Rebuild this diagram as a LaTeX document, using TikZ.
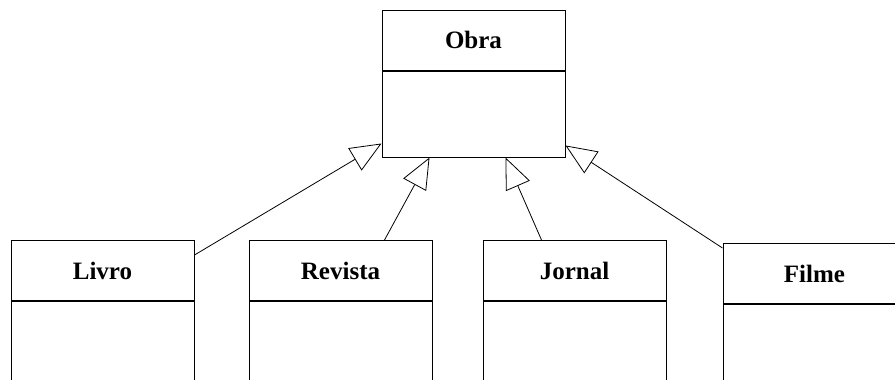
\documentclass[tikz,border=0pt]{standalone}
\usepackage{fontspec}
\setmainfont{Liberation Serif}
\usetikzlibrary{positioning,arrows.meta}

\tikzset{
  classhead/.style={draw, line width=1pt, minimum width=183pt, minimum height=60pt,
    inner sep=0pt, font=\bfseries\fontsize{25}{30}\selectfont},
  classbody/.style={draw, line width=1pt, minimum width=183pt, minimum height=#1,
    inner sep=0pt},
  inherit/.style={line width=0.8pt, -{Triangle[open, length=31pt, width=26pt]}}
}

\begin{document}
\begin{tikzpicture}[x=1pt, y=-1pt]
    % Define picture size
    \def\picw{895}
    \def\pich{380}

    \useasboundingbox (0,0) rectangle (\picw,\pich);
    \clip (0,0) rectangle (\picw,\pich);

    % Draw the base class
    \node[classhead] (obra) at (473.5,40) {Obra};
    \node[classbody=86pt, below=0pt of obra] (obra-body) {};

    % Draw the subclasses
    \node[classhead] (livro) at (102.5,270.5) {Livro};
    \node[classbody=120pt, below=0pt of livro] (livro-body) {};
    \node[classhead] (revista) at (340.5,270.5) {Revista};
    \node[classbody=120pt, below=0pt of revista] (revista-body) {};
    \node[classhead] (jornal) at (574.5,270.5) {Jornal};
    \node[classbody=120pt, below=0pt of jornal] (jornal-body) {};
    \node[classhead] (filme) at (814.5,273.5) {Filme};
    \node[classbody=120pt, below=0pt of filme] (filme-body) {};

    % Draw the inheritance arrows
    \draw[inherit] ([yshift=-15pt]livro.north east) -- ([yshift=14pt]obra-body.south west);
    \draw[inherit] ([xshift=136pt]revista.north west) -- ([xshift=48pt]obra-body.south west);
    \draw[inherit] ([xshift=59pt]jornal.north west) -- ([xshift=124pt]obra-body.south west);
    \draw[inherit] ([yshift=-5pt]filme.north west) -- ([yshift=12pt]obra-body.south east);
\end{tikzpicture}
\end{document}
